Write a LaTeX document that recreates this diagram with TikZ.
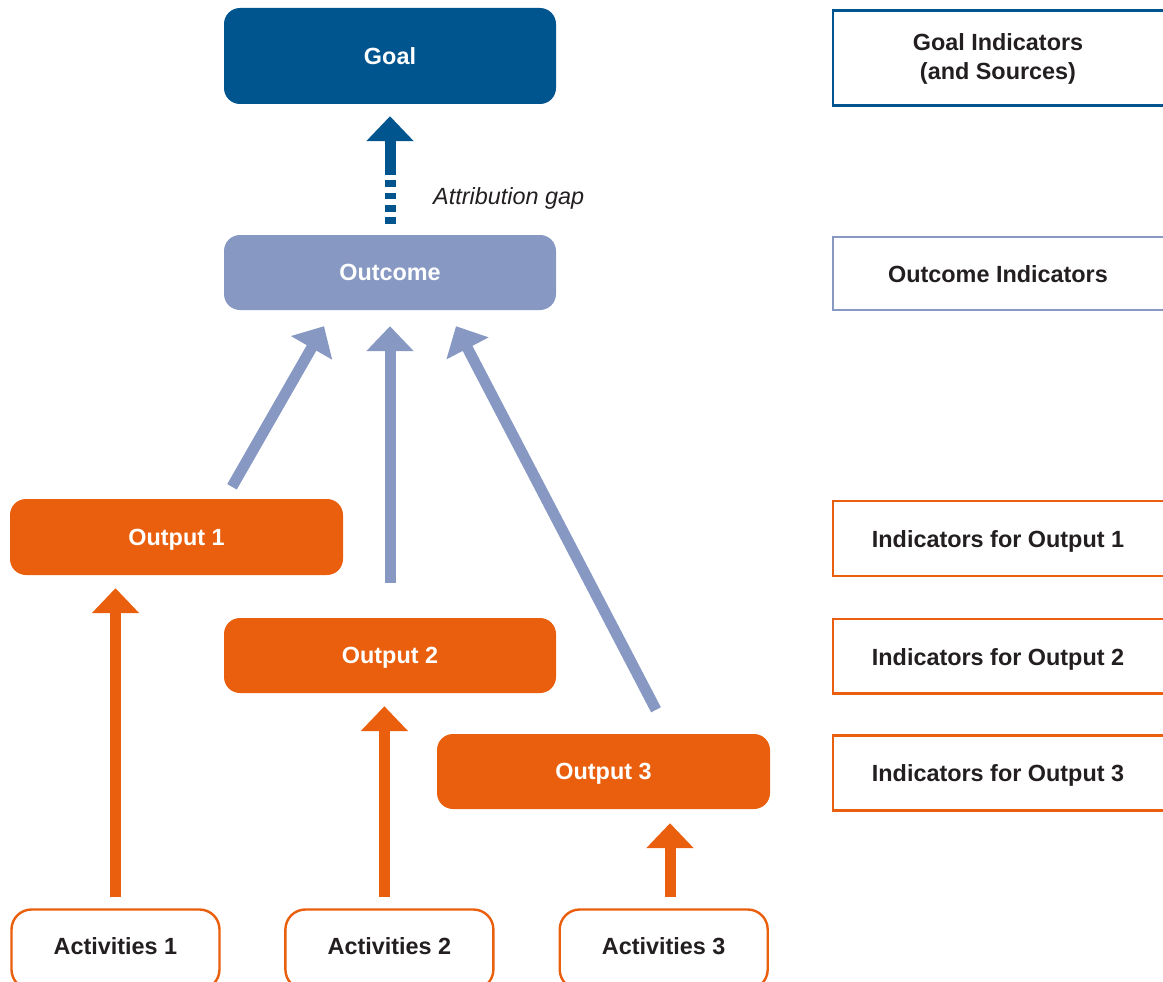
\documentclass[tikz,border=0pt]{standalone}
\usepackage{fontspec}
\setmainfont{Liberation Sans}
\usetikzlibrary{arrows.meta,calc}
\definecolor{dkblue}{HTML}{00558F}
\definecolor{ltblue}{HTML}{8799C3}
\definecolor{orng}{HTML}{EA5F0E}
\definecolor{txt}{HTML}{231F20}
\begin{document}
\begin{tikzpicture}[x=1pt,y=-1pt,
  fbox/.style={rectangle, rounded corners=16pt, fill=#1, text=white, font=\fontsize{23.4}{29}\selectfont\bfseries, minimum width=332pt, minimum height=75pt, inner sep=0pt, text height=16.8pt, text depth=0pt},
  abox/.style={rectangle, rounded corners=20pt, draw=orng, line width=2.4pt, fill=white, minimum width=208pt, minimum height=80pt, inner sep=0pt},
  ibox/.style={rectangle, draw=#1, line width=2.4pt, minimum width=340pt, inner sep=0pt},
  itext/.style={text=txt, font=\fontsize{23.4}{29}\selectfont\bfseries, inner sep=0pt, text height=16.8pt, text depth=0pt},
  mtext/.style={text=txt, font=\fontsize{23.4}{29}\selectfont\bfseries, align=center, inner sep=0pt},
  arr/.style={draw=#1, line width=11pt, -{Triangle[width=46pt,length=25pt]}},
]
\useasboundingbox (0,0) rectangle (1163,982);
\clip (0,0) rectangle (1163,982);

% main boxes
\node[fbox=dkblue, minimum height=96pt] (goal) at (390,56) {Goal};
\node[fbox=ltblue] (oc) at (390,272.5) {Outcome};
\node[fbox=orng, minimum width=333pt, minimum height=76pt] (o1) at (176.5,537) {Output 1};
\node[fbox=orng] (o2) at (390,655.5) {Output 2};
\node[fbox=orng, minimum width=333pt] (o3) at (603.5,771.5) {Output 3};

% activities
\node[abox] (a1) at (115.5,949.5) {};
\node[abox] (a2) at (389.4,949.5) {};
\node[abox] (a3) at (663.7,949.5) {};
\node[itext] (a1t) at (115.5,946.5) {Activities 1};
\node[itext] (a2t) at (389.4,946.5) {Activities 2};
\node[itext] (a3t) at (663.7,946.5) {Activities 3};

% indicator boxes
\node[ibox=dkblue, minimum height=95pt] (gi) at (1003,58) {};
\node[ibox=ltblue, minimum height=73pt] (oi) at (1003,273.5) {};
\node[ibox=orng, minimum height=75pt] (i1) at (1003,538.5) {};
\node[ibox=orng, minimum height=74.5pt] (i2) at (1003,656.3) {};
\node[ibox=orng, minimum height=75pt] (i3) at (1003,773) {};
\node[mtext] (git) at (998,58.5) {Goal Indicators\\(and Sources)};
\node[itext] (oit) at (998,274) {Outcome Indicators};
\node[itext] (i1t) at (998,539) {Indicators for Output 1};
\node[itext] (i2t) at (998,657) {Indicators for Output 2};
\node[itext] (i3t) at (998,773) {Indicators for Output 3};

% orange arrows
\draw[arr=orng] ($(a1.north)+(0,-11)$) -- ($(a1.north |- o1.south)+(0,13)$);
\draw[arr=orng] ($(a2.north)+(-5,-11)$) -- ($(a2.north |- o2.south)+(-5,13)$);
\draw[arr=orng] ($(a3.north)+(6.3,-11)$) -- ($(a3.north |- o3.south)+(6.3,14)$);

% light blue arrows
\draw[arr=ltblue] ($(o1.north)+(55.5,-12)$) -- ($(oc.south)+(-66,16)$);
\draw[arr=ltblue] ($(o2.north)+(0,-35)$) -- ($(oc.south)+(0,16)$);
\draw[arr=ltblue] ($(o3.north)+(52.5,-24)$) -- ($(oc.south)+(66,16)$);

% attribution gap arrow
\draw[dkblue, line width=11pt, dash pattern=on 6.5pt off 5.8pt] ($(oc.north)+(0,-11)$) -- ($(oc.north)+(0,-55)$);
\draw[arr=dkblue] ($(goal.south)+(0,71)$) -- ($(goal.south)+(0,12)$);
\node[anchor=west, inner sep=0pt, text=txt, font=\fontsize{23.4}{29}\selectfont\itshape] (ag) at (433,198.5) {Attribution gap};
\end{tikzpicture}
\end{document}
